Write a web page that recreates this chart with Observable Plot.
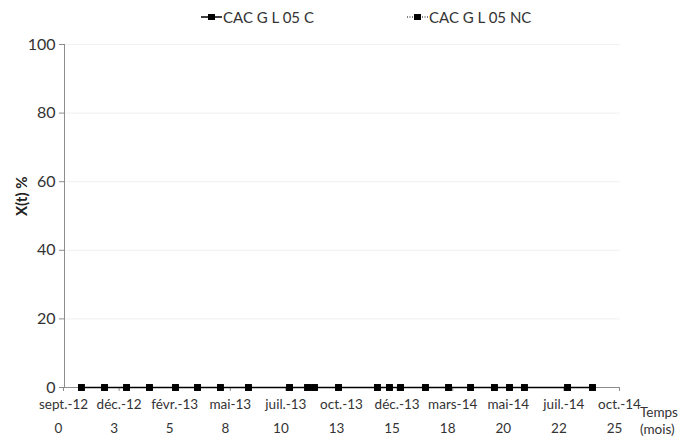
<!DOCTYPE html>
<html>
<head>
<meta charset="utf-8">
<script src="https://cdn.jsdelivr.net/npm/d3@7"></script>
<script src="https://cdn.jsdelivr.net/npm/@observablehq/plot@0.6"></script>
<style>
  body { margin: 0; background: #fff; font-family: Lato, "Open Sans", sans-serif; color: #333; }
  #wrap { position: relative; width: 680px; height: 438px; }
  #legend { position: relative; height: 30px; width: 680px; font-size: 15px; }
  .item { position: absolute; top: 8px; display: flex; align-items: center; white-space: nowrap; }
  .item svg { display: block; margin-right: 1px; }
  #xlabel { position: absolute; left: 640px; top: 404px; font-size: 13.5px; line-height: 17px; }
</style>
</head>
<body>
<div id="wrap">
  <div id="legend"></div>
  <div id="chart"></div>
  <div id="xlabel">Temps<br>(mois)</div>
</div>
<script>
// ---- data ----
const seriesNames = ["CAC G L 05 C", "CAC G L 05 NC"];
const dateLabels = ["sept.-12", "déc.-12", "févr.-13", "mai-13", "juil.-13", "oct.-13", "déc.-13", "mars-14", "mai-14", "juil.-14", "oct.-14"];
const monthLabels = ["0", "3", "5", "8", "10", "13", "15", "18", "20", "22", "25"];
const tickMonths = [0, 2.5, 5, 7.5, 10, 12.5, 15, 17.5, 20, 22.5, 25];
const yTicks = [0, 20, 40, 60, 80, 100];
const months = [0.76, 1.80, 2.79, 3.82, 4.99, 5.98, 7.01, 8.27, 10.12, 10.93, 11.24, 12.32, 14.07, 14.61, 15.11, 16.23, 17.27, 18.26, 19.33, 20.01, 20.68, 22.62, 23.74];
const valuesC  = [0, 0, 0, 0, 0, 0, 0, 0, 0, 0, 0, 0, 0, 0, 0, 0, 0, 0, 0, 0, 0, 0, 0];
const valuesNC = [0, 0, 0, 0, 0, 0, 0, 0, 0, 0, 0, 0, 0, 0, 0, 0, 0, 0, 0, 0, 0, 0, 0];

const data = months.map((t, i) => ({t, c: valuesC[i], nc: valuesNC[i]}));

// ---- legend ----
const legend = document.getElementById("legend");
const legendLeft = [201, 407];
seriesNames.forEach((name, i) => {
  const div = document.createElement("div");
  div.className = "item";
  div.style.left = legendLeft[i] + "px";
  const dash = i === 0 ? "" : 'stroke-dasharray="1,1.5"';
  div.innerHTML = `<svg width="21" height="10"><line x1="0" x2="21" y1="5" y2="5" stroke="#000" stroke-width="${i === 0 ? 1.5 : 1}" ${dash}></line><rect x="7" y="2" width="7" height="6" fill="#000"></rect></svg><span>${name}</span>`;
  legend.appendChild(div);
});

// ---- chart ----
const chart = Plot.plot({
  width: 680,
  height: 408,
  marginTop: 14,
  marginBottom: 51,
  marginLeft: 64,
  marginRight: 60,
  style: {fontFamily: "Lato, 'Open Sans', sans-serif", fontSize: "13.5px", color: "#333", background: "#fff"},
  x: {domain: [0, 25]},
  y: {domain: [0, 100]},
  marks: [
    Plot.gridY(yTicks.slice(1), {stroke: "#f0f0f0", strokeOpacity: 1}),
    Plot.ruleY([0], {stroke: "#8c8c8c"}),
    Plot.ruleX([0], {stroke: "#8c8c8c"}),
    Plot.axisY({ticks: yTicks, tickSize: 5, tickFormat: () => "", stroke: "#8c8c8c", label: null}),
    Plot.text(yTicks, {y: d => d, text: d => String(d), frameAnchor: "left", dx: -9, textAnchor: "end", fontSize: 16, fill: "#333"}),
    Plot.text(["X(t) %"], {frameAnchor: "left", rotate: -90, dx: -42, fontWeight: "bold", fontSize: 15, fill: "#222"}),
    Plot.axisX({ticks: tickMonths, tickFormat: d => dateLabels[tickMonths.indexOf(d)], tickSize: 4, tickPadding: 8, dx: -1, stroke: "#8c8c8c", fill: "#333", label: null}),
    Plot.axisX({ticks: tickMonths, tickFormat: d => monthLabels[tickMonths.indexOf(d)], tickSize: 0, tickPadding: 36, dx: -6, fill: "#333", label: null}),
    Plot.line(data, {x: "t", y: "nc", stroke: "#000", strokeWidth: 1, strokeDasharray: "1,1.5"}),
    Plot.line(data, {x: "t", y: "c", stroke: "#000", strokeWidth: 1.5}),
    Plot.dot(data, {x: "t", y: "nc", symbol: "square", r: 3.8, fill: "#000"}),
    Plot.dot(data, {x: "t", y: "c", symbol: "square", r: 3.8, fill: "#000"})
  ]
});
document.getElementById("chart").appendChild(chart);
</script>
</body>
</html>
